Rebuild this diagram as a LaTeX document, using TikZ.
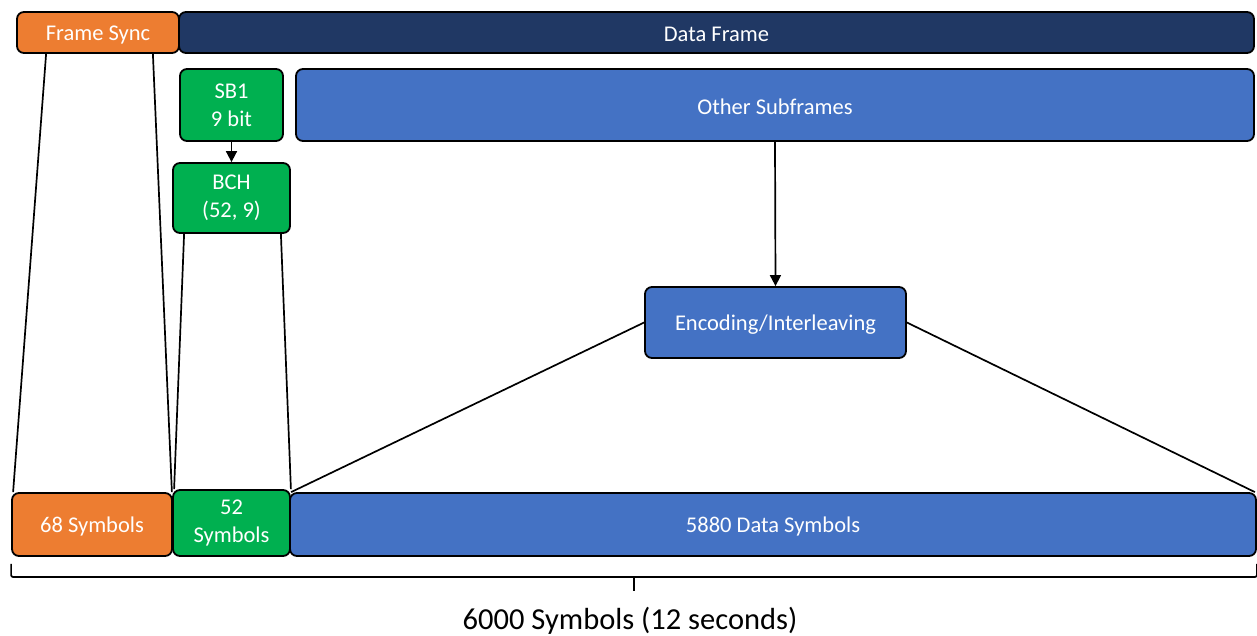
\documentclass[tikz,border=0pt]{standalone}
\usepackage{fontspec}
\setmainfont{Carlito}
\usetikzlibrary{arrows.meta,calc}
\definecolor{syncorange}{HTML}{ED7D31}
\definecolor{framenavy}{HTML}{203864}
\definecolor{subgreen}{HTML}{00B050}
\definecolor{subblue}{HTML}{4472C4}
\begin{document}
\begin{tikzpicture}[x=1pt,y=-1pt,
  blk/.style={draw=black,line width=1.8pt,rounded corners=7pt,text=white,
    inner sep=0pt,align=center,font=\fontsize{22.5}{28}\selectfont,
    execute at begin node={\rule{0pt}{19pt}}},
  link/.style={draw=black,line width=1.7pt},
  flow/.style={link,-{Triangle[length=11pt,width=11pt]}}]
\useasboundingbox (0,0) rectangle (1257,635);
% top row: the frame
\node[blk,fill=syncorange,minimum width=162pt,minimum height=41pt] (fs) at (98,32.5) {Frame Sync};
\node[blk,fill=framenavy,minimum width=1075pt,minimum height=41pt] (df) at (716.5,32.5) {Data Frame};
% subframes
\node[blk,fill=subgreen,minimum width=103pt,minimum height=72pt] (sb1) at (231.5,105) {SB1\\9 bit};
\node[blk,fill=subblue,minimum width=958pt,minimum height=72pt] (other) at (775,105) {Other Subframes};
% coding stages
\node[blk,fill=subgreen,minimum width=117pt,minimum height=70pt] (bch) at (231.5,198) {BCH\\(52, 9)};
\node[blk,fill=subblue,minimum width=261pt,minimum height=71pt] (enc) at (775.5,322.5) {Encoding/Interleaving};
% bottom row: transmitted symbols
\node[blk,fill=syncorange,minimum width=160pt,minimum height=63pt] (s68) at (92,524.5) {68 Symbols};
\node[blk,fill=subgreen,minimum width=117pt,minimum height=66pt] (s52) at (231.5,523) {52\\Symbols};
\node[blk,fill=subblue,minimum width=966pt,minimum height=63pt] (s5880) at (773,524.5) {5880 Data Symbols};
% arrows between stages
\draw[flow] (sb1.south) -- (bch.north);
\draw[flow] (other.south) -- (enc.north);
% expansion lines
\draw[link] ($(fs.south west)+(30,0)$) -- ($(s68.north west)+(2,0)$);
\draw[link] ($(fs.south east)+(-27,0)$) -- ($(s68.north east)+(-1,0)$);
\draw[link] ($(bch.south west)+(12,0)$) -- ($(s52.north west)+(2,0)$);
\draw[link] ($(bch.south east)+(-10,0)$) -- ($(s52.north east)+(0,0)$);
\draw[link] (enc.west) -- ($(s5880.north west)+(2,0)$);
\draw[link] (enc.east) -- ($(s5880.north east)+(-2,0)$);
% overall span bracket
\coordinate (bl) at ($(s68.south west)+(0,7)$);
\coordinate (br) at ($(s5880.south east)+(0,7)$);
\coordinate (bm) at (634,577);
\draw[link,rounded corners=2pt] (bl) -- ($(bl|-bm)$) -- ($(br|-bm)$) -- (br);
\draw[link] (bm) -- ($(bm)+(0,14)$);
\node[font=\fontsize{30.5}{36}\selectfont,inner sep=0pt] (total) at (630,621) {6000 Symbols (12 seconds)};
\end{tikzpicture}
\end{document}
